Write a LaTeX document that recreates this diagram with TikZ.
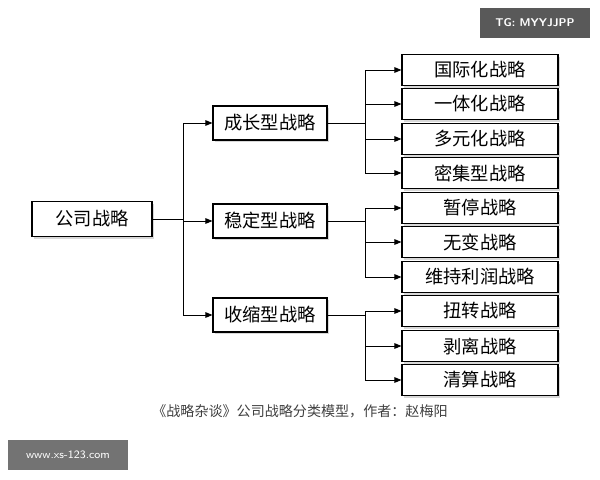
\documentclass[tikz,border=0pt]{standalone}
\usepackage{fontspec}
\setmainfont{Liberation Serif}
\newfontfamily\cjk{Noto Sans CJK SC}
\usetikzlibrary{arrows.meta,shadows}
\tikzset{
  box/.style={draw,line width=0.8pt,fill=white,minimum height=31\unitpx,font=\cjk\fontsize{13}{13}\selectfont,
    drop shadow={shadow xshift=1.5pt,shadow yshift=-1.5pt,fill=gray!60}},
  leaf/.style={box,minimum width=156\unitpx},
  mid/.style={box,minimum width=114\unitpx,minimum height=34\unitpx},
  link/.style={line width=0.7pt,-{Triangle[length=5pt,width=4pt]}}
}
\newlength\unitpx \setlength\unitpx{0.025cm}
\begin{document}
\begin{tikzpicture}[x=0.025cm,y=-0.025cm]
\useasboundingbox (0,0) rectangle (600,480);

\node[box,minimum width=120\unitpx,minimum height=35\unitpx] (root) at (92,219) {公司战略};

\node[mid] (grow) at (270,123) {成长型战略};
\node[mid] (stab) at (270,221) {稳定型战略};
\node[mid] (shrk) at (270,315) {收缩型战略};

\node[leaf] (l1) at (480,70) {国际化战略};
\node[leaf] (l2) at (480,104) {一体化战略};
\node[leaf] (l3) at (480,139) {多元化战略};
\node[leaf] (l4) at (480,173) {密集型战略};
\node[leaf] (l5) at (480,208) {暂停战略};
\node[leaf] (l6) at (480,242) {无变战略};
\node[leaf] (l7) at (480,277) {维持利润战略};
\node[leaf] (l8) at (480,311) {扭转战略};
\node[leaf] (l9) at (480,346) {剥离战略};
\node[leaf] (l10) at (480,380) {清算战略};

% root to middle level
\draw[line width=0.7pt] (root.east) -- (183,219);
\draw[line width=0.7pt] (183,123) -- (183,315);
\foreach \m in {grow,stab,shrk}
  \draw[link] (183,0 |- \m.west) -- (\m.west);

% middle to leaves
\draw[line width=0.7pt] (grow.east) -- (365,123);
\draw[line width=0.7pt] (365,70) -- (365,173);
\foreach \l in {l1,l2,l3,l4}
  \draw[link] (365,0 |- \l.west) -- (\l.west);
\draw[line width=0.7pt] (stab.east) -- (365,221);
\draw[line width=0.7pt] (365,208) -- (365,277);
\foreach \l in {l5,l6,l7}
  \draw[link] (365,0 |- \l.west) -- (\l.west);
\draw[line width=0.7pt] (shrk.east) -- (365,315);
\draw[line width=0.7pt] (365,311) -- (365,380);
\foreach \l in {l8,l9,l10}
  \draw[link] (365,0 |- \l.west) -- (\l.west);

\node[font=\cjk\fontsize{10}{10}\selectfont,text=black!75] (cap) at (300,411)
  {《战略杂谈》公司战略分类模型，作者：赵梅阳};

% watermarks
\node[fill=black!65,text=white,font=\sffamily\bfseries\fontsize{8}{8}\selectfont,
  minimum width=110\unitpx,minimum height=30\unitpx] (tg) at (535,23) {TG: MYYJJPP};
\node[fill=black!55,text=white,font=\sffamily\fontsize{8}{8}\selectfont,
  minimum width=120\unitpx,minimum height=30\unitpx] (web) at (68,455) {www.xs-123.com};
\end{tikzpicture}
\end{document}
